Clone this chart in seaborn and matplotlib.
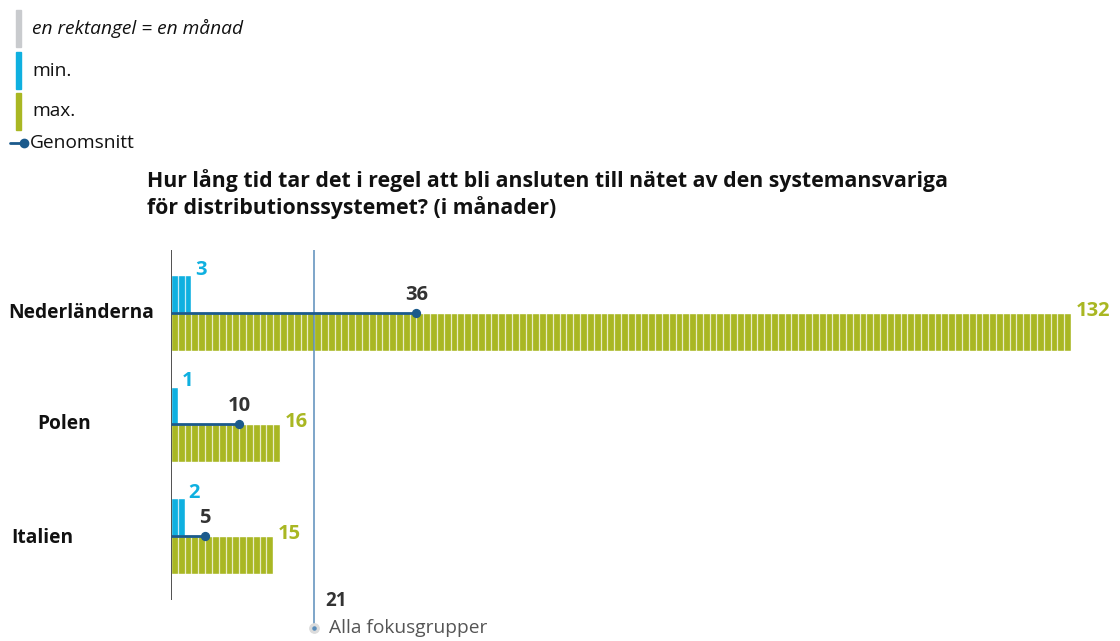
import matplotlib.pyplot as plt
import numpy as np
import pandas as pd
import seaborn as sns

# === DATA ===
countries = ["Nederländerna", "Polen", "Italien"]
min_months = [3, 1, 2]
max_months = [132, 16, 15]
mean_months = [36, 10, 5]
all_groups_mean = 21
all_groups_label = "Alla fokusgrupper"
title = ("Hur lång tid tar det i regel att bli ansluten till nätet av den systemansvariga\n"
         "för distributionssystemet? (i månader)")

# === STYLE ===
BLUE = "#0fb0e0"
GREEN = "#a9b723"
GRAY = "#c9cbce"
DARK = "#1b5a8c"
REF = "#5a8dbb"
TXT = "#333333"

W, H = 1120, 641
sns.set_style("white")
plt.rcParams["font.family"] = ["Open Sans", "DejaVu Sans"]

df = pd.DataFrame({
    "country": countries * 2,
    "kind": ["min"] * 3 + ["max"] * 3,
    "value": min_months + max_months,
})

fig = plt.figure(figsize=(W / 100, H / 100), dpi=100)


def fx(x):
    return x / W


def fy(y):
    return 1 - y / H


# axes: x=0 at px 171, x=132 at px 1071; rows 111.5 px apart, from px 250 to bottom
ax_left, ax_right = 171, 1071
ax_top, ax_bot = 250, 641
ax = fig.add_axes([fx(ax_left), fy(ax_bot), (ax_right - ax_left) / W, (ax_bot - ax_top) / H])

sns.barplot(data=df, y="country", x="value", hue="kind", hue_order=["min", "max"],
            palette={"min": BLUE, "max": GREEN}, width=0.673, saturation=1,
            errorbar=None, orient="h", legend=False, ax=ax)

ax.set_xlim(0, max(max_months))
row_px = 111.5
ax.set_ylim(2 + (ax_bot - 536) / row_px, -(313 - ax_top) / row_px)
ax.axis("off")

# one rectangle per month: separators inside every bar
for p in ax.patches:
    n = int(round(p.get_width()))
    if n > 1:
        ax.vlines(np.arange(1, n), p.get_y(), p.get_y() + p.get_height(),
                  color="white", lw=0.9, alpha=0.75, zorder=3)

# y-axis line and reference line
y_top = ax.get_ylim()[1]
ax.vlines(0, y_top, 2 + (600 - 536) / row_px, color=TXT, lw=1.2, zorder=4)
y_ref_end = 2 + (628 - 536) / row_px
ax.vlines(all_groups_mean, y_top, y_ref_end, color=REF, lw=1.1, zorder=5)
ax.scatter([all_groups_mean], [y_ref_end], s=45, color="#dcdcdc", zorder=5, clip_on=False)
ax.scatter([all_groups_mean], [y_ref_end], s=5, color=REF, zorder=6, clip_on=False)
ax.text(all_groups_mean + 1.6, 2 + (601 - 536) / row_px, str(all_groups_mean),
        fontsize=13.5, fontweight="bold", color=TXT, va="center", ha="left", clip_on=False)
ax.text(all_groups_mean + 2.2, y_ref_end, all_groups_label,
        fontsize=13.8, color="#555555", va="center", ha="left", clip_on=False)

half = 0.673 / 2
for i, (mn, mx, avg) in enumerate(zip(min_months, max_months, mean_months)):
    ax.plot([0, avg], [i, i], color=DARK, lw=2, zorder=6, solid_capstyle="butt")
    ax.scatter([avg], [i], s=32, color=DARK, zorder=7)
    ax.text(avg, i - 0.165, str(avg), fontsize=14.5, fontweight="bold", color=TXT,
            ha="center", va="center", zorder=8)
    ax.text(mn + 0.6, i - half - 0.05, str(mn), fontsize=14.5, fontweight="bold", color=BLUE,
            ha="left", va="center", zorder=8)
    ax.text(mx + 0.7, i - 0.02, str(mx), fontsize=14.5, fontweight="bold", color=GREEN,
            ha="left", va="center", zorder=8)

# country labels
label_x = [8, 37, 11]
label_y = [313, 424, 538]
for name, lx, ly in zip(countries, label_x, label_y):
    fig.text(fx(lx), fy(ly), name, fontsize=13.8, fontweight="bold", color="#111111",
             ha="left", va="center")

# title
fig.text(fx(147), fy(169), title, fontsize=15.3, fontweight="bold", color="#111111",
         ha="left", va="top", linespacing=1.25)

# legend
legend_rows = [(GRAY, "en rektangel = en månad", "italic", 10, 47),
               (BLUE, "min.", "normal", 52, 89),
               (GREEN, "max.", "normal", 93, 130)]
for color, label, style, y0, y1 in legend_rows:
    fig.patches.append(plt.Rectangle((fx(16), fy(y1)), 5 / W, (y1 - y0) / H,
                                     transform=fig.transFigure, color=color))
    fig.text(fx(32), fy((y0 + y1) / 2), label, fontsize=13.8, style=style, color="#111111",
             ha="left", va="center")
fig.lines.append(plt.Line2D([fx(10), fx(24)], [fy(143), fy(143)], transform=fig.transFigure,
                            color=DARK, lw=2))
fig.lines.append(plt.Line2D([fx(24)], [fy(143)], transform=fig.transFigure, color=DARK,
                            marker="o", markersize=6))
fig.text(fx(30), fy(143), "Genomsnitt", fontsize=13.8, color="#111111", ha="left", va="center")

fig.savefig("out.png", dpi=100)
